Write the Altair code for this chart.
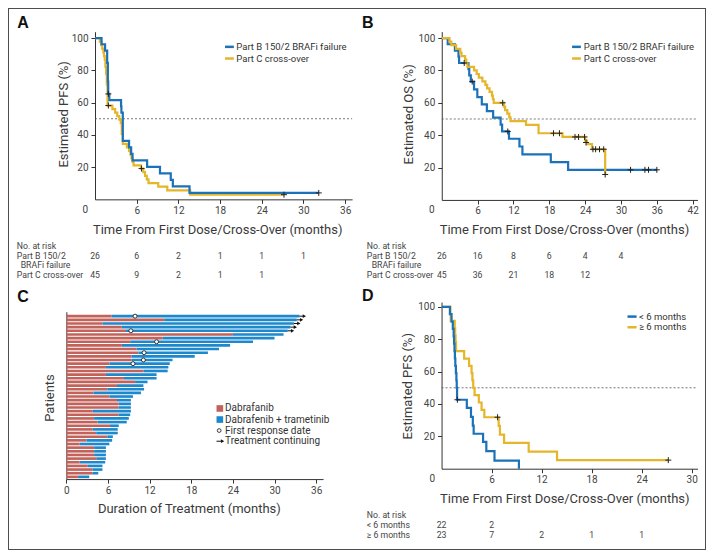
import altair as alt
import pandas as pd

# ---------------- data ----------------
# Panel A: PFS
A_partB_t = [0, 0.94, 1.45, 1.75, 1.85, 1.9, 2.06, 3.75, 3.8, 4.0, 4.9, 5.2, 5.4, 7.5, 9.35, 10.9, 11.2, 13.6, 32.2]
A_partB_s = [100, 96.2, 92.3, 84.6, 73.1, 65.4, 61.5, 57.7, 53.8, 36.3, 32.3, 28.2, 24.2, 20.2, 16.1, 12.1, 8.1, 4.0, 4.0]
A_partB_ct = [1.92, 32.2]
A_partB_cs = [65.4, 4.0]
A_partC_t = [0, 0.7, 0.9, 1.05, 1.2, 1.3, 1.4, 1.5, 1.6, 1.7, 1.8, 2.5, 2.9, 3.2, 3.5, 3.7, 3.85, 4.0,
             4.6, 4.9, 5.1, 5.25, 5.4, 5.55, 6.6, 6.95, 7.2, 7.45, 7.7, 9.1, 10.4, 13.7, 27.2]
A_partC_s = [100, 97.8, 95.6, 93.3, 91.1, 88.9, 86.7, 82.2, 77.8, 71.1, 58.2, 56.0, 53.8, 51.6, 49.4, 47.2, 40.6, 34.4,
             32.2, 30.0, 27.8, 25.6, 23.3, 21.1, 19.1, 16.9, 14.6, 12.4, 10.1, 7.9, 5.6, 2.9, 2.9]
A_partC_ct = [1.92, 6.7, 27.2]
A_partC_cs = [58.2, 19.1, 2.9]
A_risk_t = [0, 6, 12, 18, 24, 30]
A_risk_B = [26, 6, 2, 1, 1, 1]
A_risk_C = [45, 9, 2, 1, 1]

# Panel B: OS
B_partB_t = [0, 1.0, 2.2, 2.8, 2.9, 4.47, 4.6, 4.86, 5.4, 5.95, 6.7, 7.55, 8.6, 9.85, 10.1, 11.25, 13.0, 13.5, 18.25, 21.15, 36.0]
B_partB_s = [100, 96.2, 92.3, 88.5, 84.6, 80.8, 76.9, 73.1, 68.3, 63.5, 59.0, 54.9, 50.8, 46.5, 42.3, 37.8, 33.0, 28.2, 23.3, 18.6, 18.6]
B_partB_ct = [3.76, 5.1, 11.05, 31.6, 34.0, 34.6, 36.0]
B_partB_cs = [84.6, 73.1, 42.3, 18.6, 18.6, 18.6, 18.6]
B_partC_t = [0, 1.3, 1.6, 2.4, 3.1, 3.3, 3.9, 4.1, 4.3, 5.4, 5.84, 6.2, 6.8, 7.3, 7.6, 8.0, 8.4, 8.55, 8.7,
             10.4, 10.6, 10.97, 11.3, 11.5, 14.1, 16.2, 20.2, 24.0, 24.3, 25.15, 27.35]
B_partC_s = [100, 97.8, 95.6, 93.3, 91.1, 88.9, 86.7, 84.4, 82.2, 80.0, 77.8, 75.6, 73.3, 71.1, 68.9, 66.7, 64.4, 62.2, 60.0,
             57.7, 55.5, 53.3, 51.0, 48.7, 46.4, 41.2, 38.9, 36.6, 34.5, 31.3, 15.7]
B_partC_ct = [10.2, 18.7, 19.7, 22.3, 22.9, 23.9, 24.15, 25.3, 25.75, 26.4, 27.1, 27.35]
B_partC_cs = [60.0, 41.2, 41.2, 38.9, 38.9, 38.9, 35.5, 31.3, 31.3, 31.3, 31.3, 15.7]
B_risk_t = [0, 6, 12, 18, 24, 30]
B_risk_B = [26, 16, 8, 6, 4, 4]
B_risk_C = [45, 36, 21, 18, 12]

# Panel C: duration of treatment (top to bottom)
C_dab = [6.5, 14.1, 5.2, 8.0, 8.6, 24.0, 13.9, 9.2, 8.0, 10.1, 10.4, 9.4, 9.4, 6.2, 5.7,
         11.1, 5.7, 8.3, 9.9, 7.3, 5.9, 3.9, 6.2, 7.3, 7.55, 7.55, 3.8, 7.55, 4.0, 4.5,
         6.3, 3.8, 4.3, 5.9, 2.9, 1.9, 4.0, 4.0, 4.0, 4.4, 1.9, 3.1, 3.8, 3.8, 1.7]
C_total = [33.6, 33.2, 32.8, 32.3, 31.9, 31.3, 30.0, 26.9, 23.6, 22.0, 20.4, 18.5, 15.3, 14.9, 14.7,
           14.6, 13.0, 13.0, 11.7, 11.1, 11.2, 10.75, 9.6, 9.3, 9.3, 9.3, 9.3, 9.2, 9.0, 8.7,
           7.55, 7.4, 7.4, 6.7, 6.6, 6.2, 5.7, 5.7, 5.7, 5.7, 5.6, 5.2, 5.2, 4.6, 3.3]
C_resp_row = [1, 5, 8, 11, 13, 14]
C_resp_t = [9.9, 9.3, 13.0, 11.2, 11.1, 9.6]
C_cont_row = [1, 2, 3, 4, 5]
C_legend = ["Dabrafanib", "Dabrafenib + trametinib", "First response date", "Treatment continuing"]

# Panel D: PFS by prior BRAFi duration
D_lt6_t = [0, 1.0, 1.2, 1.35, 1.45, 1.5, 1.55, 1.6, 1.65, 1.72, 1.78, 1.82, 1.86, 3.03, 3.53, 3.75, 3.85, 4.98, 5.37, 6.35, 9.28]
D_lt6_s = [100, 95.5, 90.9, 86.4, 81.8, 77.3, 72.7, 68.2, 63.6, 59.1, 54.5, 50.0, 42.6, 37.6, 32.0, 26.6, 21.6, 16.6, 10.8, 5.0, 0]
D_lt6_ct = [1.9]
D_lt6_cs = [42.6]
D_ge6_t = [0, 1.07, 1.1, 1.58, 1.63, 1.68, 1.74, 2.71, 3.3, 3.6, 3.7, 3.8, 3.96, 4.47, 4.8, 5.13, 6.85, 7.0, 7.5, 10.45, 13.85, 27.2]
D_ge6_s = [100, 95.7, 91.3, 86.9, 82.6, 78.3, 72.6, 68.0, 63.6, 59.1, 54.6, 50.0, 45.5, 40.9, 36.4, 31.8, 26.5, 21.0, 15.9, 10.6, 5.3, 5.3]
D_ge6_ct = [6.72, 27.2]
D_ge6_cs = [31.8, 5.3]
D_risk_t = [0, 6, 12, 18, 24]
D_risk_lt6 = [22, 2]
D_risk_ge6 = [23, 7, 2, 1, 1]

# ---------------- layout / style ----------------
W, H = 698, 542
KX, KY = W / 714, H / 558


def X(v):
    return round(v * KX, 2)


def Y(v):
    return round(v * KY, 2)


FONT = "Roboto"
BOLD = "Liberation Sans"
KM_BLUE = "#1B72B8"
KM_GOLD = "#E5B52A"
BAR_RED = "#C2625B"
BAR_BLUE = "#1D88CB"
INK = "#333333"
CENSOR = "M-1,0H1M0,-1V1"

TITLE_SIZE = 13
TICK_SIZE = 10
LEG_SIZE = 9.5
RISK_SIZE = 8.7


def txt(s, x, y, size=9.0, align="left", color="#444444", font=FONT, weight="normal"):
    kw = dict(align=align, baseline="middle", fontSize=size, font=font, fontWeight=weight, color=color)
    return alt.Chart(pd.DataFrame({"s": [s]})).mark_text(**kw).encode(
        text="s:N", x=alt.value(x), y=alt.value(y))


def common_axis():
    return dict(domainColor=INK, domainWidth=1, tickColor=INK, tickWidth=1, tickSize=4,
                labelColor="#444444", labelFont=FONT, labelFontSize=TICK_SIZE, titleFont=FONT,
                titleFontSize=TITLE_SIZE, titleFontWeight="normal", titleColor="#3a3a3a", grid=False,
                labelFlush=False, labelOverlap=False, titleBaseline="middle", titleAlign="center")


def x_axis(vals, axis_y, title, tx, ty):
    return alt.Axis(orient="bottom", offset=Y(axis_y) - H, values=vals, title=title,
                    labelPadding=2, titleX=X(tx), titleY=Y(ty) - Y(axis_y), titleAngle=0,
                    **common_axis())


def y_axis(vals, axis_x, title, tx, ty, labels=True, ticks=True):
    return alt.Axis(orient="left", offset=-X(axis_x), values=vals, title=title,
                    labelPadding=3, titleX=X(tx) - X(axis_x), titleY=Y(ty), titleAngle=270,
                    labels=labels, ticks=ticks, **common_axis())


def km_panel(P):
    def xs():
        return alt.Scale(domain=P["xdom"], range=[X(P["x0"]), X(P["x1"])], nice=False, zero=False)

    def ys():
        return alt.Scale(domain=P["ydom"], range=[Y(P["y0"]), Y(P["y1"])], nice=False, zero=False)

    layers = []
    ref = pd.DataFrame({"a": [0], "b": [P["xdom"][1]], "y": [50]})
    layers.append(alt.Chart(ref).mark_rule(color="#555555", strokeDash=[2, 2], strokeWidth=0.8).encode(
        x=alt.X("a:Q", scale=xs(), axis=x_axis(P["xvals"], P["y0"], "Time From First Dose/Cross-Over (months)",
                                             P["xt"][0], P["xt"][1])),
        x2="b:Q",
        y=alt.Y("y:Q", scale=ys(), axis=y_axis([20, 40, 60, 80, 100], P["x0"], P["ytitle"], P["yt"][0], P["yt"][1]))))
    for (t, s, ct, cs, col) in P["curves"]:
        df = pd.DataFrame({"t": t, "s": s})
        layers.append(alt.Chart(df).mark_line(interpolate="step-after", color=col, strokeWidth=2.2).encode(
            x=alt.X("t:Q", scale=xs(), axis=None), y=alt.Y("s:Q", scale=ys(), axis=None)))
    for (t, s, ct, cs, col) in P["curves"]:
        cdf = pd.DataFrame({"t": ct, "s": cs})
        layers.append(alt.Chart(cdf).mark_point(shape=CENSOR, filled=False, color="#222222", strokeWidth=1,
                                                size=36, opacity=1).encode(
            x=alt.X("t:Q", scale=xs(), axis=None), y=alt.Y("s:Q", scale=ys(), axis=None)))
    layers.append(txt("0", X(P["zero"][0]), Y(P["zero"][1]), size=TICK_SIZE, align="center"))
    lx0, lx1, ltx, lys = P["leg"]
    for (name, col), ly in zip(P["legnames"], lys):
        layers.append(alt.Chart(pd.DataFrame({"s": [name]})).mark_rule(color=col, strokeWidth=2.5).encode(
            x=alt.value(X(lx0)), x2=alt.value(X(lx1)), y=alt.value(Y(ly))))
        layers.append(txt(name, X(ltx), Y(ly), size=LEG_SIZE, color="#333333"))
    for (label, lx, ly) in P["risklabels"]:
        layers.append(txt(label, X(lx), Y(ly), size=RISK_SIZE, color="#444444"))
    for (tt, nn, ry) in P["riskrows"]:
        rdf = pd.DataFrame({"t": tt[:len(nn)], "n": [str(v) for v in nn]})
        layers.append(alt.Chart(rdf).mark_text(fontSize=RISK_SIZE, font=FONT, color="#444444", align="center",
                                               baseline="middle").encode(
            x=alt.X("t:Q", scale=xs(), axis=None), y=alt.value(Y(ry)), text="n:N"))
    layers.append(txt(P["letter"], X(P["lpos"][0]), Y(P["lpos"][1]), size=16, font=BOLD, weight="bold",
                      color="#111111"))
    return layers


layersA = km_panel(dict(
    xdom=[0, 37], x0=89, x1=352, xvals=[6, 12, 18, 24, 30, 36],
    ydom=[0, 104], y0=197, y1=24.4, ytitle="Estimated PFS (%)", yt=(57, 109), xt=(214, 228.5),
    curves=[(A_partC_t, A_partC_s, A_partC_ct, A_partC_cs, KM_GOLD),
            (A_partB_t, A_partB_s, A_partB_ct, A_partB_cs, KM_BLUE)],
    zero=(79, 207.5),
    leg=(222, 231, 233.5, [40, 52]),
    legnames=[("Part B 150/2 BRAFi failure", KM_BLUE), ("Part C cross-over", KM_GOLD)],
    risklabels=[("No. at risk", 9, 245), ("Part B 150/2", 9, 255), ("BRAFi failure", 13, 265),
                ("Part C cross-over", 9, 275)],
    riskrows=[(A_risk_t, A_risk_B, 255), (A_risk_t, A_risk_C, 275)],
    letter="A", lpos=(9.5, 15)))

layersB = km_panel(dict(
    xdom=[0, 42.8], x0=443.7, x1=705.3, xvals=[6, 12, 18, 24, 30, 36, 42],
    ydom=[0, 104], y0=197.6, y1=24.3, ytitle="Estimated OS (%)", yt=(410, 109), xt=(568.7, 228.5),
    curves=[(B_partB_t, B_partB_s, B_partB_ct, B_partB_cs, KM_BLUE),
            (B_partC_t, B_partC_s, B_partC_ct, B_partC_cs, KM_GOLD)],
    zero=(433.5, 207.5),
    leg=(577, 586, 589, [40, 52]),
    legnames=[("Part B 150/2 BRAFi failure", KM_BLUE), ("Part C cross-over", KM_GOLD)],
    risklabels=[("No. at risk", 367, 245), ("Part B 150/2", 367, 255), ("BRAFi failure", 372, 265),
                ("Part C cross-over", 367, 275)],
    riskrows=[(B_risk_t, B_risk_B, 255), (B_risk_t, B_risk_C, 275)],
    letter="B", lpos=(362, 15)))

layersD = km_panel(dict(
    xdom=[0, 30.7], x0=443.5, x1=705.3, xvals=[6, 12, 18, 24, 30],
    ydom=[0, 103], y0=474.3, y1=302.7, ytitle="Estimated PFS (%)", yt=(408.7, 389), xt=(569, 505),
    curves=[(D_ge6_t, D_ge6_s, D_ge6_ct, D_ge6_cs, KM_GOLD),
            (D_lt6_t, D_lt6_s, D_lt6_ct, D_lt6_cs, KM_BLUE)],
    zero=(434, 485),
    leg=(633.7, 643, 645.5, [317.7, 328.7]),
    legnames=[("< 6 months", KM_BLUE), ("\u2265 6 months", KM_GOLD)],
    risklabels=[("No. at risk", 367, 522.3), ("< 6 months", 367, 532.3), ("\u2265 6 months", 367, 542.3)],
    riskrows=[(D_risk_t, D_risk_lt6, 532.3), (D_risk_t, D_risk_ge6, 542.3)],
    letter="D", lpos=(362, 297)))

# ---------------- panel C ----------------
n = len(C_dab)
cdf = pd.DataFrame({"row": list(range(1, n + 1)), "dab": C_dab, "tot": C_total})
cdf["v"] = n + 1 - cdf["row"]
cdf["lo"] = cdf["v"] - 0.36
cdf["hi"] = cdf["v"] + 0.36
cdf["zero"] = 0.0


def xsC():
    return alt.Scale(domain=[0, 37], range=[X(59.7), X(322.3)], nice=False, zero=False)


def ysC():
    return alt.Scale(domain=[0.39, 46.22], range=[Y(485), Y(312.7)], nice=False, zero=False)


layersC = []
layersC.append(alt.Chart(cdf).mark_rect(color=BAR_RED).encode(
    x=alt.X("zero:Q", scale=xsC(), axis=x_axis([0, 6, 12, 18, 24, 30, 36], 485, "Duration of Treatment (months)",
                                                185, 515)),
    x2="dab:Q",
    y=alt.Y("lo:Q", scale=ysC(), axis=y_axis([0], 59.7, "Patients", 42, 401, labels=False, ticks=False)),
    y2="hi:Q"))
layersC.append(alt.Chart(cdf).mark_rect(color=BAR_BLUE).encode(
    x=alt.X("dab:Q", scale=xsC(), axis=None), x2="tot:Q",
    y=alt.Y("lo:Q", scale=ysC(), axis=None), y2="hi:Q"))

cont = cdf[cdf["row"].isin(C_cont_row)].copy()
cont["tip"] = cont["tot"] + 0.7
layersC.append(alt.Chart(cont).mark_rule(color="#111111", strokeWidth=1).encode(
    x=alt.X("tot:Q", scale=xsC(), axis=None), x2="tip:Q", y=alt.Y("v:Q", scale=ysC(), axis=None)))
layersC.append(alt.Chart(cont).mark_point(shape="triangle-right", filled=True, color="#111111", size=14,
                                          opacity=1).encode(
    x=alt.X("tip:Q", scale=xsC(), axis=None), y=alt.Y("v:Q", scale=ysC(), axis=None)))

resp = pd.DataFrame({"row": C_resp_row, "t": C_resp_t})
resp["v"] = n + 1 - resp["row"]
layersC.append(alt.Chart(resp).mark_point(shape="circle", filled=True, fill="white", stroke="#222222",
                                          strokeWidth=0.9, size=16, opacity=1).encode(
    x=alt.X("t:Q", scale=xsC(), axis=None), y=alt.Y("v:Q", scale=ysC(), axis=None)))

leg_y = [412.3, 423.7, 435, 446]
for col, ly in zip([BAR_RED, BAR_BLUE], leg_y[:2]):
    layersC.append(alt.Chart(pd.DataFrame({"s": [col]})).mark_square(color=col, size=44, opacity=1).encode(
        x=alt.value(X(216.7)), y=alt.value(Y(ly))))
layersC.append(alt.Chart(pd.DataFrame({"s": ["o"]})).mark_point(
    shape="circle", filled=True, fill="white", stroke="#222222", strokeWidth=0.9, size=14, opacity=1).encode(
    x=alt.value(X(216)), y=alt.value(Y(leg_y[2]))))
layersC.append(alt.Chart(pd.DataFrame({"s": ["a"]})).mark_rule(color="#111111", strokeWidth=1).encode(
    x=alt.value(X(213.3)), x2=alt.value(X(219)), y=alt.value(Y(leg_y[3]))))
layersC.append(alt.Chart(pd.DataFrame({"s": ["a"]})).mark_point(
    shape="triangle-right", filled=True, color="#111111", size=14, opacity=1).encode(
    x=alt.value(X(219.5)), y=alt.value(Y(leg_y[3]))))
for label, ly in zip(C_legend, leg_y):
    layersC.append(txt(label, X(222), Y(ly), size=LEG_SIZE + 0.5, color="#333333"))
layersC.append(txt("C", X(9.5), Y(297.5), size=16, font=BOLD, weight="bold", color="#111111"))

chart = alt.layer(*(layersA + layersB + layersC + layersD)).resolve_scale(
    x="independent", y="independent"
).resolve_axis(
    x="independent", y="independent"
).properties(
    width=W, height=H, padding=0, background="white"
).configure_view(stroke="#4d4d4d", strokeWidth=2)

chart.save("out.html", embed_options={"renderer": "svg", "actions": False})
